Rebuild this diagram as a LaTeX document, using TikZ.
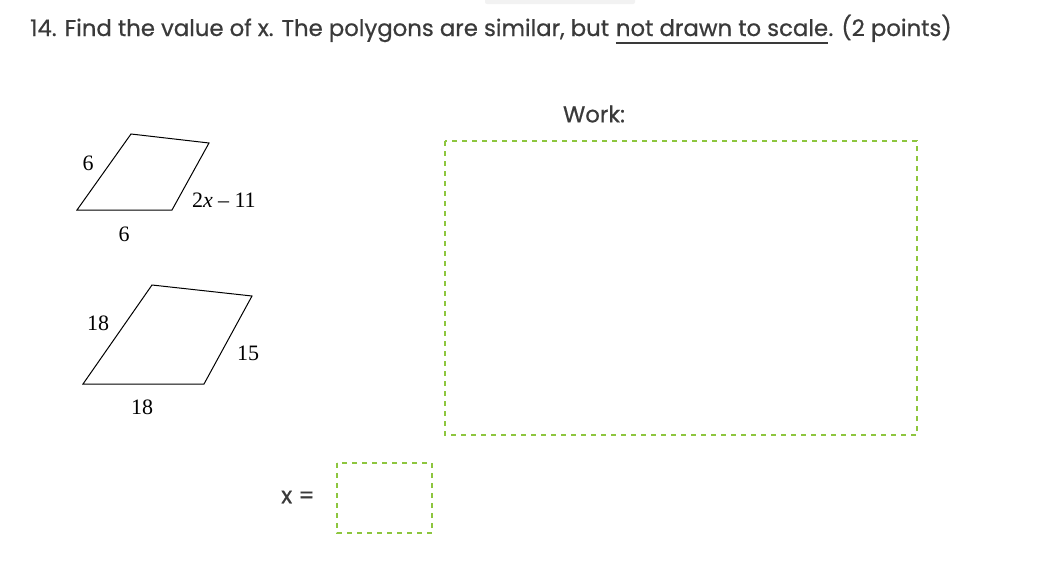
\documentclass[tikz,border=0pt]{standalone}
\usepackage{fontspec}
\setmainfont{Liberation Serif}
\newfontfamily\headfont{Poppins}[FakeBold=0.6]
\definecolor{txt}{RGB}{58,58,58}
\definecolor{boxgreen}{RGB}{141,198,63}
\begin{document}
\begin{tikzpicture}[x=1pt,y=-1pt,
  head/.style={inner sep=0pt,anchor=base west,text=txt,font=\headfont\fontsize{22.8}{27}\selectfont},
  lbl/.style={inner sep=0pt,font=\fontsize{22}{25}\selectfont},
  polyline/.style={draw=black,line width=1pt,line join=miter},
  answerbox/.style={draw=boxgreen,line width=1.6pt,dash pattern=on 5pt off 5pt}]
\useasboundingbox (0,0) rectangle (1051,562);
\fill[white] (0,0) rectangle (1051,562);
\fill[black!5,rounded corners=2pt] (485,-3) rectangle (635,4);
% title
\node[head] (t1) at (30,36) {14. Find the value of x. The polygons are similar, but};
\node[head] (t2) at ([xshift=6.5pt]t1.base east) {not drawn to scale};
\node[head] (t3) at (t2.base east) {. (2 points)};
\draw[txt,line width=2pt] ([yshift=-7pt]t2.base west) -- ([yshift=-7pt]t2.base east);
% small parallelogram
\coordinate (a1) at (131,134);
\coordinate (a2) at (209,143);
\coordinate (a3) at (172,210);
\coordinate (a4) at (77,210);
\draw[polyline] (a1) -- (a2) -- (a3) -- (a4) -- cycle;
\node[lbl] (s1) at (88,163) {6};
\node[lbl] (s2) at (124,234) {6};
\node[lbl,anchor=west] (s3) at (192,200) {2\textit{x}\hspace{0.24em}–\hspace{0.24em}11};
% large parallelogram
\coordinate (b1) at (152,285);
\coordinate (b2) at (252,296);
\coordinate (b3) at (204,384);
\coordinate (b4) at (83,384);
\draw[polyline] (b1) -- (b2) -- (b3) -- (b4) -- cycle;
\node[lbl] (l1) at (98,323) {18};
\node[lbl] (l2) at (248,353) {15};
\node[lbl] (l3) at (142,407) {18};
% work area
\node[head,anchor=center] (work) at (594,114) {Work:};
\draw[answerbox] (445,141) rectangle (917,435);
% answer
\node[head,anchor=center] (xeq) at (298,497) {x =};
\draw[answerbox] (337,463) rectangle (432,533);
\end{tikzpicture}
\end{document}
